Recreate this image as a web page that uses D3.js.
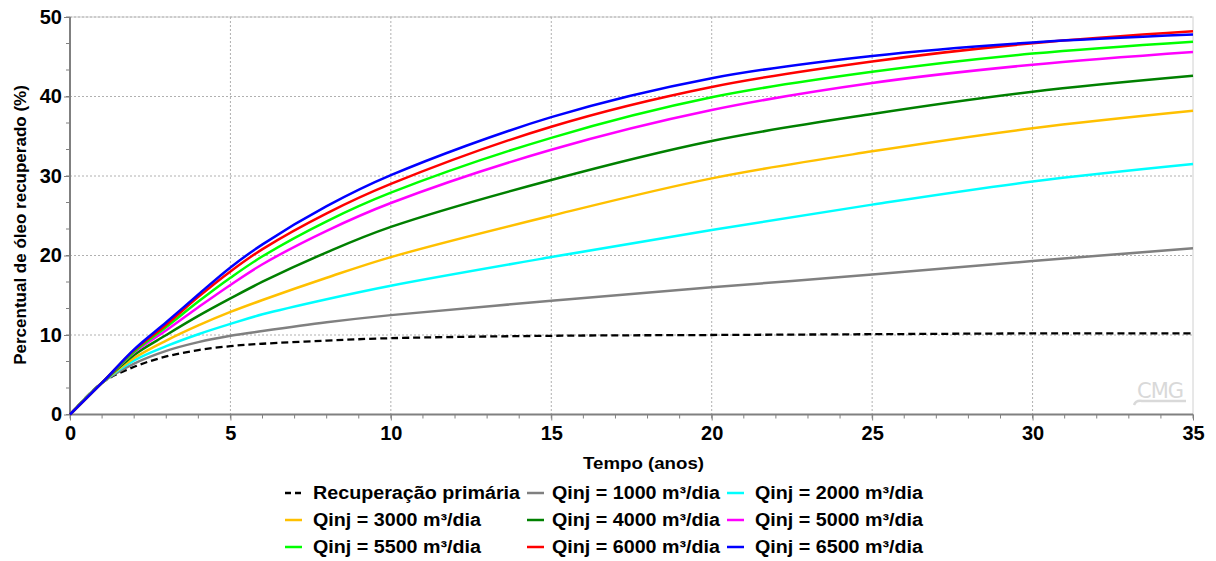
<!DOCTYPE html>
<html>
<head>
<meta charset="utf-8">
<script src="https://cdn.jsdelivr.net/npm/d3@7"></script>
<style>
  html, body { margin: 0; padding: 0; background: #fff; }
  svg { display: block; font-family: "Liberation Sans", Arial, sans-serif; }
</style>
</head>
<body>
<svg id="chart" width="1216" height="561"></svg>
<script>
// ---- Data ----
const years = [0, 1, 2, 3, 4, 5, 6, 8, 10, 15, 20, 25, 30, 35];

const primaria = [0, 4.0, 6.0, 7.3, 8.1, 8.6, 8.9, 9.3, 9.6, 9.9, 10.0, 10.1, 10.2, 10.2];
const q1000    = [0, 4.0, 6.4, 8.0, 9.1, 9.9, 10.5, 11.6, 12.5, 14.3, 16.0, 17.6, 19.3, 20.9];
const q2000    = [0, 4.0, 6.8, 8.6, 10.1, 11.4, 12.6, 14.5, 16.2, 19.8, 23.2, 26.4, 29.3, 31.5];
const q3000    = [0, 4.0, 7.1, 9.3, 11.2, 12.9, 14.4, 17.2, 19.8, 25.0, 29.7, 33.1, 36.0, 38.2];
const q4000    = [0, 4.0, 7.5, 10.0, 12.4, 14.6, 16.7, 20.4, 23.6, 29.5, 34.4, 37.8, 40.6, 42.6];
const q5000    = [0, 4.0, 7.8, 10.6, 13.5, 16.3, 18.9, 23.1, 26.6, 33.3, 38.3, 41.7, 44.0, 45.6];
const q5500    = [0, 4.0, 7.9, 11.0, 14.2, 17.2, 19.9, 24.3, 27.9, 34.8, 39.9, 43.1, 45.4, 46.9];
const q6000    = [0, 4.0, 8.1, 11.3, 14.8, 18.0, 20.8, 25.3, 29.0, 36.2, 41.2, 44.4, 46.7, 48.2];
const q6500    = [0, 4.0, 8.2, 11.6, 15.1, 18.5, 21.4, 26.2, 30.1, 37.4, 42.3, 45.1, 46.8, 47.8];

const seriesNames = [
  "Recuperação primária",
  "Qinj = 1000 m³/dia", "Qinj = 2000 m³/dia", "Qinj = 3000 m³/dia",
  "Qinj = 4000 m³/dia", "Qinj = 5000 m³/dia", "Qinj = 5500 m³/dia",
  "Qinj = 6000 m³/dia", "Qinj = 6500 m³/dia"
];
const seriesValues = [primaria, q1000, q2000, q3000, q4000, q5000, q5500, q6000, q6500];
const seriesColors = ["#000000", "#808080", "#00ffff", "#ffc000", "#008000", "#ff00ff", "#00ff00", "#ff0000", "#0000ff"];

const xTicks = [0, 5, 10, 15, 20, 25, 30, 35];
const yTicks = [0, 10, 20, 30, 40, 50];
const xTitle = "Tempo (anos)";
const yTitle = "Percentual de óleo recuperado (%)";

// ---- Layout ----
const svg = d3.select("#chart");
const L = 70, R = 1193, T = 17, B = 414.5;
const x = d3.scaleLinear().domain([0, 35]).range([L, R]);
const y = d3.scaleLinear().domain([0, 50]).range([B, T]);

// plot frame (top/right)
svg.append("rect").attr("x", L).attr("y", T).attr("width", R - L).attr("height", B - T)
  .attr("fill", "none").attr("stroke", "#d0d0d0").attr("stroke-width", 1);

// grid
const grid = svg.append("g");
xTicks.filter(v => v > 0 && v < 35).forEach(v => {
  grid.append("line").attr("x1", x(v)).attr("x2", x(v)).attr("y1", T).attr("y2", B)
    .attr("stroke", "#b0b0b0").attr("stroke-width", 1).attr("stroke-dasharray", "2,2");
});
yTicks.filter(v => v > 0).forEach(v => {
  grid.append("line").attr("x1", L).attr("x2", R).attr("y1", y(v)).attr("y2", y(v))
    .attr("stroke", "#b0b0b0").attr("stroke-width", 1).attr("stroke-dasharray", "2,2");
});

// minor ticks
const minorX = d3.range(0, 36, 1);
const minorY = d3.range(0, 50.01, 10 / 3);
const ax = svg.append("g");
minorX.forEach(v => {
  ax.append("line").attr("x1", x(v)).attr("x2", x(v)).attr("y1", B).attr("y2", B + 4)
    .attr("stroke", "#808080").attr("stroke-width", 1);
});
minorY.forEach(v => {
  ax.append("line").attr("x1", L - 4).attr("x2", L).attr("y1", y(v)).attr("y2", y(v))
    .attr("stroke", "#808080").attr("stroke-width", 1);
});

// axes with D3
const xAxis = d3.axisBottom(x).tickValues(xTicks).tickSize(6).tickPadding(5).tickFormat(d3.format("d"));
const yAxis = d3.axisLeft(y).tickValues(yTicks).tickSize(6).tickPadding(2).tickFormat(d3.format("d"));
const gx = svg.append("g").attr("transform", `translate(0,${B})`).call(xAxis);
const gy = svg.append("g").attr("transform", `translate(${L},0)`).call(yAxis);
[gx, gy].forEach(g => {
  g.select(".domain").attr("stroke", "#808080").attr("stroke-width", 2);
  g.selectAll(".tick line").attr("stroke", "#808080").attr("stroke-width", 1);
  g.selectAll(".tick text").attr("fill", "#000").style("font-size", "20px").style("font-weight", "bold")
    .style("font-family", "'Liberation Sans', Arial, sans-serif");
});
gy.select(".domain").attr("d", `M0,${B}V${T}`);
gx.select(".domain").attr("d", `M${L},0H${R}`);

// axis titles
svg.append("text").attr("x", 583).attr("y", 469).attr("text-anchor", "start")
  .attr("textLength", 121).attr("lengthAdjust", "spacingAndGlyphs")
  .style("font-size", "17px").style("font-weight", "bold").text(xTitle);
svg.append("text").attr("transform", `translate(26,225) rotate(-90)`)
  .attr("text-anchor", "middle").style("font-size", "17px").style("font-weight", "bold").text(yTitle);

// CMG watermark
const wm = svg.append("g");
wm.append("text").attr("x", 1160).attr("y", 398).attr("text-anchor", "middle")
  .style("font-size", "21px").style("font-family", "'DejaVu Sans', sans-serif").style("letter-spacing", "-1px")
  .attr("fill", "#d9d9d9").text("CMG");
wm.append("path").attr("d", "M1134,405 Q1136,400 1142,401 L1186,401")
  .attr("fill", "none").attr("stroke", "#d9d9d9").attr("stroke-width", 2.5);

// lines
const line = d3.line().x(d => x(d[0])).y(d => y(d[1])).curve(d3.curveCatmullRom.alpha(0.5));
const lines = svg.append("g");
seriesValues.forEach((vals, i) => {
  const data = years.map((yr, j) => [yr, vals[j]]);
  lines.append("path").datum(data).attr("d", line)
    .attr("fill", "none").attr("stroke", seriesColors[i])
    .attr("stroke-width", i === 0 ? 2.3 : 2.5)
    .attr("stroke-dasharray", i === 0 ? "7,4" : null)
    .attr("stroke-linejoin", "round");
});

// legend
const colSym = [285, 527, 727];
const colText = [313, 552, 755];
const rowY = [493, 520, 547];
const lg = svg.append("g");
seriesNames.forEach((name, i) => {
  const c = i % 3, r = Math.floor(i / 3);
  const cy = rowY[r];
  lg.append("line").attr("x1", colSym[c]).attr("x2", colSym[c] + 17).attr("y1", cy).attr("y2", cy)
    .attr("stroke", seriesColors[i]).attr("stroke-width", 2.5)
    .attr("stroke-dasharray", i === 0 ? "6,4" : null);
  lg.append("text").attr("x", colText[c]).attr("y", cy).attr("dy", "0.36em")
    .attr("textLength", i === 0 ? 207 : 168).attr("lengthAdjust", "spacingAndGlyphs")
    .style("font-size", "18px").style("font-weight", "bold").attr("fill", "#000").text(name);
});
</script>
</body>
</html>
